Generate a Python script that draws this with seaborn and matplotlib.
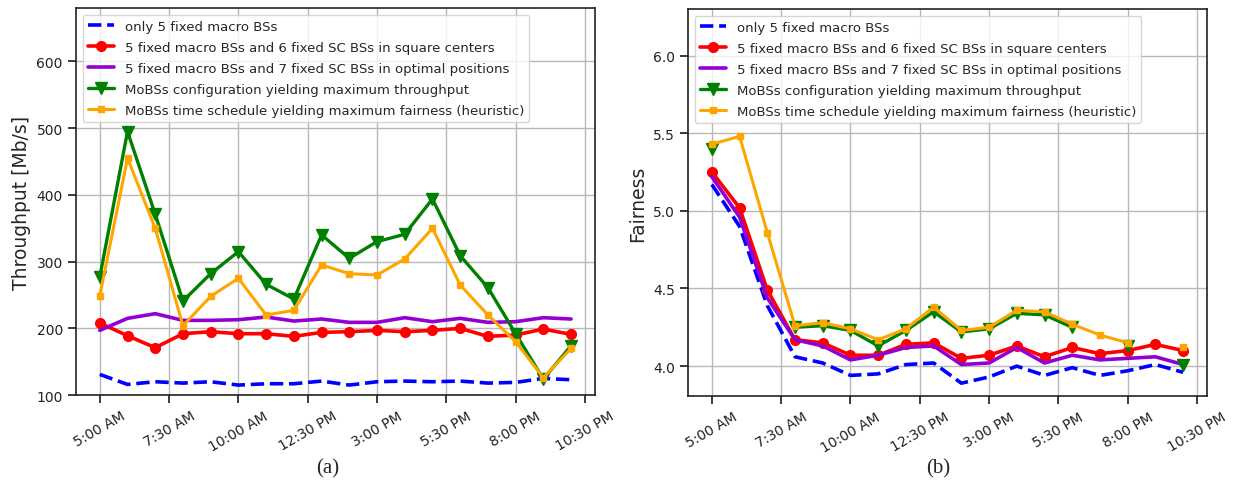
import numpy as np
import pandas as pd
import seaborn as sns
import matplotlib
matplotlib.use("Agg")
import matplotlib.pyplot as plt

nan = np.nan

# time axis (hour of day) and tick labels
hours = [5, 6, 7, 8, 9, 10, 11, 12, 13, 14, 15, 16, 17, 18, 19, 20, 21, 22]
tick_pos = [5, 7.5, 10, 12.5, 15, 17.5, 20, 22.5]
tick_labels = ["5:00 AM", "7:30 AM", "10:00 AM", "12:30 PM",
               "3:00 PM", "5:30 PM", "8:00 PM", "10:30 PM"]

series_names = [
    "only 5 fixed macro BSs",
    "5 fixed macro BSs and 6 fixed SC BSs in square centers",
    "5 fixed macro BSs and 7 fixed SC BSs in optimal positions",
    "MoBSs configuration yielding maximum throughput",
    "MoBSs time schedule yielding maximum fairness (heuristic)",
]

# (a) throughput [Mb/s]
thr_macro = [131, 116, 120, 118, 120, 115, 117, 117, 121, 115, 120, 121, 120, 121, 118, 119, 125, 123]
thr_sc_square = [208, 189, 171, 192, 195, 192, 192, 188, 194, 195, 197, 195, 197, 200, 188, 190, 199, 191]
thr_sc_optimal = [197, 215, 222, 212, 212, 213, 217, 211, 214, 209, 209, 216, 210, 215, 209, 210, 216, 214]
thr_mobs_maxthr = [277, 495, 371, 241, 282, 315, 266, 244, 340, 305, 330, 341, 394, 309, 261, 192, 124, 174]
thr_mobs_fair = [249, 455, 350, 204, 248, 275, 220, 227, 295, 282, 280, 304, 350, 265, 220, 180, 126, 170]

# (b) fairness
fair_macro = [5.17, 4.90, 4.39, 4.06, 4.02, 3.94, 3.95, 4.01, 4.02, 3.89, 3.93, 4.00, 3.94, 3.99, 3.94, 3.97, 4.01, 3.96]
fair_sc_square = [5.25, 5.02, 4.49, 4.17, 4.15, 4.07, 4.07, 4.14, 4.15, 4.05, 4.07, 4.13, 4.06, 4.12, 4.08, 4.10, 4.14, 4.10]
fair_sc_optimal = [5.22, 4.96, 4.44, 4.17, 4.13, 4.04, 4.07, 4.12, 4.13, 4.01, 4.02, 4.12, 4.02, 4.07, 4.04, 4.05, 4.06, 4.01]
fair_mobs_maxthr = [5.40, nan, nan, 4.25, 4.26, 4.23, 4.13, 4.23, 4.35, 4.22, 4.24, 4.34, 4.33, 4.25, nan, 4.13, nan, 4.01]
fair_mobs_fair = [5.43, 5.48, 4.86, 4.26, 4.28, 4.24, 4.17, 4.24, 4.38, 4.23, 4.25, 4.36, 4.35, 4.27, 4.20, 4.15, nan, 4.12]

# line styles per series
styles = [
    dict(color="#0000ff", linestyle="--", linewidth=2.6),
    dict(color="#ff0000", linestyle="-", linewidth=2.6, marker="o", markersize=7),
    dict(color="#9400d3", linestyle="-", linewidth=2.6),
    dict(color="#008000", linestyle="-", linewidth=2.4, marker="v", markersize=9),
    dict(color="#ffa500", linestyle="-", linewidth=2.2, marker="s", markersize=5),
]

sns.set_theme(style="ticks", rc={
    "axes.grid": True,
    "grid.color": "#b8b8b8",
    "grid.linewidth": 1.0,
    "axes.edgecolor": "#222222",
    "axes.linewidth": 1.2,
    "xtick.color": "#222222",
    "ytick.color": "#222222",
})
plt.rcParams["font.family"] = ["DejaVu Sans"]


def draw(ax, values_list):
    for name, vals, st in zip(series_names, values_list, styles):
        df = pd.DataFrame({"hour": hours, "value": vals})
        # break the line where a value is missing
        df["seg"] = df["value"].isna().cumsum()
        df = df.dropna()
        kw = dict(st)
        if "marker" in kw:
            kw["markeredgecolor"] = st["color"]
            kw["markeredgewidth"] = 1
        sns.lineplot(data=df, x="hour", y="value", units="seg", estimator=None,
                     ax=ax, label=name, **kw)
    handles, labels = ax.get_legend_handles_labels()
    uniq = dict(zip(labels[::-1], handles[::-1]))
    ax.legend([uniq[n] for n in series_names], series_names, loc="upper left",
              fontsize=9.5, framealpha=0.8, fancybox=True, labelspacing=0.6)
    ax.set_xticks(tick_pos)
    ax.set_xticklabels(tick_labels, rotation=30, fontsize=10)
    ax.set_xlabel("")
    ax.tick_params(axis="y", labelsize=10)


fig = plt.figure(figsize=(12.33, 4.89), dpi=100)
ax1 = fig.add_axes([0.0616, 0.190, 0.4209, 0.7914])
ax2 = fig.add_axes([0.558, 0.188, 0.4209, 0.7914])

draw(ax1, [thr_macro, thr_sc_square, thr_sc_optimal, thr_mobs_maxthr, thr_mobs_fair])
ax1.set_ylim(100, 680)
ax1.set_yticks([100, 200, 300, 400, 500, 600])
ax1.set_ylabel("Throughput [Mb/s]", fontsize=13.5)

draw(ax2, [fair_macro, fair_sc_square, fair_sc_optimal, fair_mobs_maxthr, fair_mobs_fair])
ax2.set_ylim(3.807, 6.3)
ax2.set_yticks([4.0, 4.5, 5.0, 5.5, 6.0])
ax2.set_yticklabels(["4.0", "4.5", "5.0", "5.5", "6.0"])
ax2.set_ylabel("Fairness", fontsize=13.5)

for ax in (ax1, ax2):
    ax.set_xlim(5 - 0.86, 22 + 0.86)

fig.text(0.266, 0.032, "(a)", family="Liberation Serif", fontsize=15, ha="center")
fig.text(0.761, 0.032, "(b)", family="Liberation Serif", fontsize=15, ha="center")

fig.savefig("out.png", dpi=100)
